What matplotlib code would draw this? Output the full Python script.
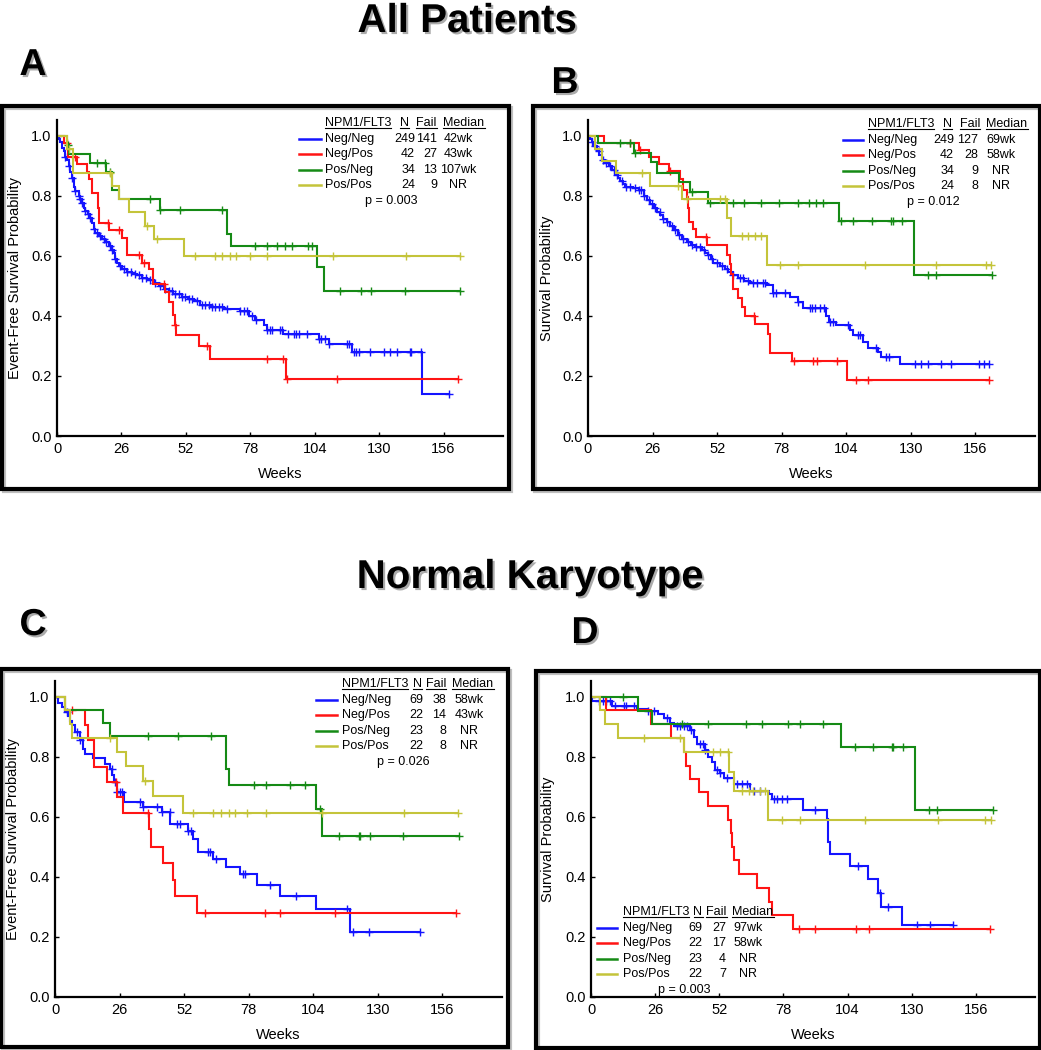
import numpy as np
import matplotlib
matplotlib.use("Agg")
import matplotlib.pyplot as plt
import matplotlib.patheffects as pe
from matplotlib.patches import Rectangle
from matplotlib.lines import Line2D

plt.rcParams['font.family'] = ['Liberation Sans', 'DejaVu Sans']

W, H = 1041, 1050

groups = ['Neg/Neg', 'Neg/Pos', 'Pos/Neg', 'Pos/Pos']
colors = ['#1414ff', '#ff1414', '#158a15', '#c4c43a']
xticks = [0, 26, 52, 78, 104, 130, 156]
yticks = [0.0, 0.2, 0.4, 0.6, 0.8, 1.0]

# ---------------- Panel A (EFS, all patients) ----------------
A_nn_t = [0.7, 1.3, 2.0, 2.7, 3.4, 4.0, 4.7, 5.4, 6.0, 6.7, 7.4, 8.7, 9.4, 10.1, 10.8, 11.4, 12.4, 13.4, 14.1, 14.8,
          15.5, 16.8, 18.2, 19.5, 20.8, 22.2, 22.9, 23.5, 24.2, 24.9, 26.2, 28.2, 30.3, 32.3, 34.3, 36.3, 39.0, 41.0,
          43.0, 45.0, 47.0, 50.4, 53.0, 55.1, 57.8, 62.0, 67.2, 74.0, 77.3, 80.0, 83.4, 84.7, 91.4, 105.6, 109.6,
          119.0, 147.3]
A_nn_s = [0.99, 0.98, 0.96, 0.95, 0.93, 0.92, 0.90, 0.88, 0.86, 0.83, 0.815, 0.80, 0.79, 0.775, 0.76, 0.75, 0.74,
          0.725, 0.71, 0.69, 0.675, 0.665, 0.655, 0.645, 0.633, 0.62, 0.61, 0.59, 0.575, 0.565, 0.556, 0.547, 0.54,
          0.535, 0.528, 0.52, 0.51, 0.50, 0.49, 0.482, 0.474, 0.463, 0.456, 0.449, 0.436, 0.43, 0.424, 0.415, 0.40,
          0.386, 0.369, 0.352, 0.341, 0.324, 0.308, 0.28, 0.139]
A_nn_c = [3.4, 4.7, 6.1, 7.4, 8.7, 9.4, 10.1, 11.4, 12.4, 13.4, 14.8, 16.1, 17.5, 18.8, 19.9, 21.2, 22.2, 23.5, 25.6,
          26.9, 28.2, 29.9, 31.6, 32.9, 34.3, 36.0, 37.7, 39.7, 41.7, 43.7, 45.0, 46.4, 47.7, 49.1, 50.4, 51.8, 53.1,
          54.5, 56.5, 58.5, 59.8, 61.2, 62.5, 63.9, 65.2, 66.6, 68.6, 74.0, 75.3, 76.7, 78.7, 80.4, 84.7, 86.1, 86.7,
          90.1, 90.8, 93.1, 95.5, 96.6, 97.5, 100.9, 105.6, 106.5, 108.3, 109.6, 117.0, 117.7, 119.7, 120.8, 121.7,
          126.4, 131.8, 134.5, 137.2, 142.3, 142.8, 147.0, 158.4]
A_np_t = [3.0, 4.5, 8.0, 12.0, 13.0, 14.0, 16.5, 17.0, 20.8, 26.2, 28.2, 34.3, 37.0, 38.7, 43.7, 45.0, 47.0, 47.5,
          48.1, 57.2, 61.6, 92.5]
A_np_s = [0.976, 0.93, 0.905, 0.88, 0.855, 0.81, 0.76, 0.71, 0.686, 0.66, 0.604, 0.577, 0.555, 0.508, 0.48, 0.447,
          0.402, 0.371, 0.336, 0.30, 0.258, 0.191]
A_np_c = [4.2, 7.4, 20.5, 25.0, 33.0, 35.0, 43.0, 47.6, 60.5, 84.7, 91.2, 92.8, 113.0, 162.0]
A_pn_t = [4.0, 5.0, 13.2, 19.8, 22.0, 22.3, 25.0, 41.4, 68.6, 70.2, 104.9, 107.6]
A_pn_s = [0.97, 0.94, 0.91, 0.88, 0.85, 0.82, 0.79, 0.752, 0.674, 0.633, 0.563, 0.482]
A_pn_c = [4.5, 16.0, 19.5, 21.5, 37.4, 41.5, 49.8, 66.6, 80.0, 84.7, 88.8, 92.0, 94.8, 101.5, 102.9, 114.3, 122.8,
          126.7, 140.5, 162.7]
A_pp_t = [4.0, 6.5, 22.0, 25.0, 29.0, 35.6, 39.3, 51.1]
A_pp_s = [0.958, 0.875, 0.833, 0.79, 0.745, 0.70, 0.655, 0.60]
A_pp_c = [5.0, 21.5, 36.5, 40.3, 55.8, 63.9, 66.6, 69.9, 72.3, 77.7, 84.7, 111.2, 141.0, 162.5]
A_N = [249, 42, 34, 24]
A_fail = [141, 27, 13, 9]
A_median = ['42wk', '43wk', '107wk', 'NR']
A_p = 'p = 0.003'

# ---------------- Panel B (OS, all patients) ----------------
B_nn_t = [0.8, 1.6, 2.6, 3.6, 4.6, 5.6, 7.0, 8.3, 9.6, 11.0, 12.0, 13.0, 14.0, 15.0, 18.0, 20.4, 22.4, 23.7, 25.0,
          26.4, 27.7, 29.0, 30.4, 31.7, 33.1, 34.8, 36.4, 38.0, 39.8, 41.5, 43.1, 45.8, 47.2, 48.5, 49.5, 50.5, 53.2,
          55.0, 56.5, 58.5, 60.5, 63.0, 65.2, 71.9, 74.6, 81.3, 84.6, 86.6, 95.7, 97.0, 100.0, 105.4, 106.7, 110.7,
          112.7, 116.8, 118.1, 125.5]
B_nn_s = [0.99, 0.98, 0.965, 0.95, 0.935, 0.92, 0.91, 0.90, 0.885, 0.87, 0.86, 0.85, 0.84, 0.83, 0.825, 0.819, 0.80,
          0.787, 0.774, 0.76, 0.747, 0.735, 0.724, 0.712, 0.70, 0.685, 0.669, 0.658, 0.647, 0.638, 0.63, 0.619, 0.61,
          0.602, 0.59, 0.578, 0.567, 0.557, 0.547, 0.537, 0.527, 0.518, 0.511, 0.502, 0.478, 0.463, 0.447, 0.427,
          0.40, 0.38, 0.369, 0.352, 0.338, 0.313, 0.293, 0.28, 0.263, 0.241]
B_nn_c = [1.6, 2.9, 4.3, 6.0, 7.4, 8.7, 10.3, 11.6, 13.7, 15.4, 17.0, 19.0, 20.4, 21.3, 22.6, 24.4, 25.7, 27.0, 28.8,
          30.4, 31.7, 33.7, 35.1, 36.8, 38.4, 40.4, 41.8, 43.5, 45.1, 46.7, 48.5, 49.8, 51.8, 53.8, 55.8, 58.5, 61.2,
          62.5, 64.5, 66.6, 68.2, 70.3, 71.2, 74.6, 75.9, 79.3, 84.6, 89.3, 90.4, 91.3, 93.3, 94.9, 97.3, 98.7, 104.7,
          108.7, 109.4, 116.1, 120.1, 121.2, 131.5, 134.2, 136.9, 142.2, 146.2, 157.6, 159.6, 161.4]
B_np_t = [6.3, 20.4, 24.4, 28.4, 32.8, 37.1, 38.4, 39.8, 40.3, 40.8, 42.4, 43.5, 47.8, 56.1, 57.2, 57.6, 58.5, 60.5,
          61.9, 63.2, 67.2, 72.6, 73.2, 82.3, 104.4]
B_np_s = [0.976, 0.953, 0.93, 0.906, 0.882, 0.857, 0.82, 0.797, 0.76, 0.713, 0.69, 0.663, 0.636, 0.604, 0.573, 0.54,
          0.489, 0.46, 0.43, 0.40, 0.372, 0.34, 0.276, 0.25, 0.186]
B_np_c = [17.0, 21.0, 33.0, 47.5, 67.0, 82.8, 90.7, 92.4, 100.4, 107.8, 112.7, 161.6]
B_pn_t = [4.0, 18.6, 25.3, 27.7, 36.8, 41.1, 48.5, 101.1, 131.2]
B_pn_s = [0.978, 0.944, 0.913, 0.878, 0.847, 0.813, 0.778, 0.716, 0.536]
B_pn_c = [13.0, 17.0, 19.0, 41.8, 49.2, 58.5, 62.8, 69.5, 77.0, 84.4, 89.0, 92.0, 94.7, 102.0, 106.7, 114.5, 122.1,
          122.8, 126.5, 136.8, 140.2, 162.7]
B_pp_t = [3.0, 5.6, 11.4, 25.0, 37.8, 55.8, 57.4, 72.2]
B_pp_s = [0.958, 0.917, 0.875, 0.833, 0.789, 0.727, 0.667, 0.571]
B_pp_c = [21.7, 36.4, 39.8, 53.2, 55.2, 61.9, 64.5, 67.2, 69.5, 77.3, 84.6, 111.4, 140.2, 160.3, 162.3]
B_N = [249, 42, 34, 24]
B_fail = [127, 28, 9, 8]
B_median = ['69wk', '58wk', 'NR', 'NR']
B_p = 'p = 0.012'

# ---------------- Panel C (EFS, normal karyotype) ----------------
C_nn_t = [1.3, 2.7, 4.0, 5.4, 6.0, 6.7, 8.0, 10.0, 11.1, 12.0, 15.2, 20.1, 22.1, 23.0, 23.7, 24.8, 27.8, 35.5, 42.9,
          46.5, 53.7, 55.7, 57.7, 63.7, 68.8, 74.4, 81.4, 90.8, 105.3, 118.7]
C_nn_s = [0.981, 0.965, 0.95, 0.935, 0.92, 0.905, 0.884, 0.856, 0.825, 0.809, 0.795, 0.778, 0.759, 0.74, 0.717,
          0.684, 0.65, 0.634, 0.617, 0.575, 0.554, 0.525, 0.484, 0.459, 0.434, 0.41, 0.373, 0.337, 0.293, 0.218]
C_nn_c = [4.7, 8.7, 10.0, 22.8, 24.1, 25.1, 26.2, 26.8, 34.2, 35.5, 41.2, 42.9, 46.3, 49.0, 50.3, 53.7, 54.6, 61.7,
          62.6, 64.8, 75.8, 76.5, 86.5, 97.2, 117.4, 120.0, 126.5, 147.1]
C_np_t = [4.0, 12.0, 13.4, 15.7, 21.0, 25.0, 27.2, 38.0, 38.5, 43.6, 47.6, 48.3, 57.0]
C_np_s = [0.955, 0.908, 0.858, 0.765, 0.716, 0.665, 0.612, 0.559, 0.501, 0.446, 0.39, 0.337, 0.279]
C_np_c = [6.7, 24.5, 37.5, 60.4, 84.5, 90.8, 112.7, 161.6]
C_pn_t = [4.0, 19.2, 22.1, 68.8, 70.2, 105.0, 107.7]
C_pn_s = [0.957, 0.914, 0.87, 0.759, 0.708, 0.625, 0.538]
C_pn_c = [37.6, 49.6, 63.0, 80.0, 84.9, 94.6, 100.6, 106.9, 114.4, 122.5, 122.9, 126.8, 140.2, 162.7]
C_pp_t = [4.0, 6.0, 6.7, 24.8, 28.6, 35.5, 39.3, 51.4]
C_pp_s = [0.955, 0.91, 0.864, 0.815, 0.769, 0.721, 0.67, 0.612]
C_pp_c = [22.1, 36.4, 55.7, 63.7, 66.7, 70.2, 72.4, 77.4, 84.9, 107.7, 140.6, 162.3]
C_N = [69, 22, 23, 22]
C_fail = [38, 14, 8, 8]
C_median = ['58wk', '43wk', 'NR', 'NR']
C_p = 'p = 0.026'

# ---------------- Panel D (OS, normal karyotype) ----------------
D_nn_t = [0.5, 8.5, 18.6, 22.7, 27.0, 29.4, 32.1, 33.5, 40.2, 41.6, 42.9, 46.3, 47.6, 49.0, 50.1, 52.4, 54.0, 57.8,
          64.5, 72.0, 73.3, 86.1, 95.8, 96.2, 96.9, 105.0, 112.4, 116.5, 117.4, 125.9]
D_nn_s = [0.987, 0.969, 0.96, 0.953, 0.942, 0.93, 0.914, 0.903, 0.889, 0.867, 0.844, 0.822, 0.80, 0.783, 0.758,
          0.745, 0.73, 0.71, 0.688, 0.675, 0.66, 0.624, 0.593, 0.515, 0.476, 0.437, 0.392, 0.348, 0.30, 0.239]
D_nn_c = [3.1, 4.9, 6.2, 7.8, 9.9, 13.2, 14.3, 17.3, 23.3, 25.4, 30.8, 34.8, 36.2, 37.5, 38.9, 40.5, 44.3, 45.6,
          46.3, 51.0, 52.4, 55.1, 59.1, 61.1, 63.2, 65.9, 68.6, 74.0, 75.3, 77.3, 79.4, 90.8, 108.4, 117.1, 120.5,
          132.0, 137.4, 146.8]
D_np_t = [6.2, 24.3, 32.5, 37.5, 38.6, 40.2, 43.6, 47.6, 55.7, 56.7, 57.2, 57.8, 59.8, 67.2, 72.3, 73.3, 82.0]
D_np_s = [0.955, 0.909, 0.864, 0.816, 0.771, 0.727, 0.682, 0.636, 0.591, 0.545, 0.50, 0.455, 0.409, 0.364, 0.318,
          0.273, 0.227]
D_np_c = [84.5, 90.8, 107.4, 112.8, 161.7]
D_pn_t = [18.9, 24.7, 101.2, 131.3]
D_pn_s = [0.953, 0.909, 0.833, 0.624]
D_pn_c = [13.0, 36.8, 47.6, 62.9, 69.2, 80.0, 84.7, 94.2, 107.0, 114.4, 121.9, 122.5, 126.6, 137.1, 140.1, 162.8]
D_pp_t = [3.5, 5.8, 10.8, 37.5, 56.1, 57.8, 71.9]
D_pp_s = [0.955, 0.909, 0.864, 0.816, 0.75, 0.688, 0.59]
D_pp_c = [21.6, 36.0, 49.6, 52.4, 55.7, 61.1, 64.2, 65.8, 68.4, 70.6, 77.3, 84.7, 111.0, 140.8, 159.6, 162.0]
D_N = [69, 22, 23, 22]
D_fail = [27, 17, 4, 7]
D_median = ['97wk', '58wk', 'NR', 'NR']
D_p = 'p = 0.003'

ylabels = ['Event-Free Survival Probability', 'Survival Probability',
           'Event-Free Survival Probability', 'Survival Probability']

# ---------------- layout (pixels) ----------------
def fx(px):
    return px / W

def fy(py):
    return 1 - py / H

fig = plt.figure(figsize=(W / 100, H / 100), dpi=100)
fig.patch.set_facecolor('white')

panels = [
    dict(curves=[(A_nn_t, A_nn_s, A_nn_c), (A_np_t, A_np_s, A_np_c), (A_pn_t, A_pn_s, A_pn_c), (A_pp_t, A_pp_s, A_pp_c)],
         N=A_N, fail=A_fail, med=A_median, p=A_p, ylabel=ylabels[0],
         ax=(57, 436, 446), frame=(2, 106, 509, 489), ylc=-0.094,
         leg=dict(x0=299, x1=321, lab=325, n=415, f=437, m=458, pc=391, hy=123,
                  hn=404.5, hf=426.5, hm=464)),
    dict(curves=[(B_nn_t, B_nn_s, B_nn_c), (B_np_t, B_np_s, B_np_c), (B_pn_t, B_pn_s, B_pn_c), (B_pp_t, B_pp_s, B_pp_c)],
         N=B_N, fail=B_fail, med=B_median, p=B_p, ylabel=ylabels[1],
         ax=(588, 436, 447), frame=(533, 106, 1040, 489), ylc=-0.092,
         leg=dict(x0=843, x1=863, lab=868, n=954, f=978, m=1001, pc=933, hy=124,
                  hn=947, hf=970, hm=1007)),
    dict(curves=[(C_nn_t, C_nn_s, C_nn_c), (C_np_t, C_np_s, C_np_c), (C_pn_t, C_pn_s, C_pn_c), (C_pp_t, C_pp_s, C_pp_c)],
         N=C_N, fail=C_fail, med=C_median, p=C_p, ylabel=ylabels[2],
         ax=(55, 997, 447), frame=(1, 669, 508, 1047), ylc=-0.094,
         leg=dict(x0=316, x1=337, lab=342, n=423, f=446, m=469, pc=403, hy=684,
                  hn=417, hf=436, hm=473)),
    dict(curves=[(D_nn_t, D_nn_s, D_nn_c), (D_np_t, D_np_s, D_np_c), (D_pn_t, D_pn_s, D_pn_c), (D_pp_t, D_pp_s, D_pp_c)],
         N=D_N, fail=D_fail, med=D_median, p=D_p, ylabel=ylabels[3],
         ax=(591, 997, 444), frame=(536, 671, 1040, 1048), ylc=-0.097,
         leg=dict(x0=597, x1=617, lab=623, n=702, f=726, m=748.5, pc=684, hy=912,
                  hn=698, hf=716.5, hm=753)),
]

XMAX, YMAX = 180.0, 1.053
AX_H = 316  # pixels for 0..YMAX
row_dy = 15.6
leg_fs = 9
header_texts = []

for P in panels:
    x0p, y0p, wp = P['ax']
    ax = fig.add_axes([fx(x0p), fy(y0p), wp / W, AX_H / H])
    ax.set_xlim(0, XMAX)
    ax.set_ylim(0, YMAX)
    for side in ['top', 'right']:
        ax.spines[side].set_visible(False)
    for side in ['left', 'bottom']:
        ax.spines[side].set_linewidth(1.6)
        ax.spines[side].set_color('black')
    ax.set_xticks(xticks)
    ax.set_xticklabels([str(v) for v in xticks])
    ax.set_yticks(yticks)
    ax.set_yticklabels(['%.1f' % v for v in yticks])
    ax.tick_params(direction='in', length=3, width=1, labelsize=10.5, pad=4, colors='black')
    ax.set_xlabel('Weeks', fontsize=10.5)
    ax.xaxis.label.set_va('center')
    ax.xaxis.set_label_coords(0.5, -0.121)
    ax.set_ylabel(P['ylabel'], fontsize=10.5)
    ax.yaxis.label.set_va('center')
    ax.yaxis.set_label_coords(P['ylc'], 0.5)

    for (t, s, c), col in zip(P['curves'], colors):
        t = np.asarray(t, float)
        s = np.asarray(s, float)
        c = np.asarray(c, float)
        end = max(t.max(), c.max())
        xs = np.concatenate([[0.0], t, [end]])
        ys = np.concatenate([[1.0], s, [s[-1]]])
        ax.step(xs, ys, where='post', color=col, lw=1.5, solid_joinstyle='miter')
        idx = np.searchsorted(t, c, side='right')
        cy = np.concatenate([[1.0], s])[idx]
        ax.plot(c, cy, ls='none', marker='+', ms=6, mew=1.0, color=col)

    # legend table
    L = P['leg']
    hy = L['hy']
    for txt, xx, ha in [('NPM1/FLT3', L['lab'], 'left'), ('N', L['hn'], 'center'),
                        ('Fail', L['hf'], 'center'), ('Median', L['hm'], 'center')]:
        tt = fig.text(fx(xx), fy(hy), txt, ha=ha, va='center', fontsize=leg_fs)
        header_texts.append(tt)
    for i, g in enumerate(groups):
        yy = hy + row_dy * (i + 1)
        fig.add_artist(Line2D([fx(L['x0']), fx(L['x1'])], [fy(yy), fy(yy)], color=colors[i], lw=1.8))
        fig.text(fx(L['lab']), fy(yy), g, ha='left', va='center', fontsize=leg_fs)
        fig.text(fx(L['n']), fy(yy), str(P['N'][i]), ha='right', va='center', fontsize=leg_fs)
        fig.text(fx(L['f']), fy(yy), str(P['fail'][i]), ha='right', va='center', fontsize=leg_fs)
        fig.text(fx(L['m']), fy(yy), P['med'][i], ha='center', va='center', fontsize=leg_fs)
    fig.text(fx(L['pc']), fy(hy + row_dy * 5), P['p'], ha='center', va='center', fontsize=leg_fs)

    # panel frame
    l, tp, r, b = P['frame']
    fig.add_artist(Rectangle((fx(l + 2), fy(b + 2)), (r - l) / W, (b - tp) / H, transform=fig.transFigure,
                             fill=False, lw=3, edgecolor='0.75'))
    fig.add_artist(Rectangle((fx(l), fy(b)), (r - l) / W, (b - tp) / H, transform=fig.transFigure,
                             fill=False, lw=3, edgecolor='black'))

shadow = [pe.withSimplePatchShadow(offset=(1.5, -1.5), shadow_rgbFace='0.45', alpha=0.6)]
fig.text(fx(467), fy(32), 'All Patients', ha='center', va='baseline', fontsize=29, fontweight='bold',
         path_effects=shadow)
fig.text(fx(530), fy(588), 'Normal Karyotype', ha='center', va='baseline', fontsize=29, fontweight='bold',
         path_effects=shadow)
for letter, (lx, ly) in zip(['A', 'B', 'C', 'D'], [(33, 75), (565, 93), (33, 635), (585, 643)]):
    fig.text(fx(lx), fy(ly), letter, ha='center', va='baseline', fontsize=27, fontweight='bold',
             path_effects=shadow)

# underline the legend headers
fig.canvas.draw()
rend = fig.canvas.get_renderer()
for tt in header_texts:
    bb = tt.get_window_extent(rend)
    yline = (bb.y0 + 0.8) / H
    fig.add_artist(Line2D([bb.x0 / W, bb.x1 / W], [yline, yline], color='black', lw=0.8))

fig.savefig('out.png', dpi=100, facecolor='white')
